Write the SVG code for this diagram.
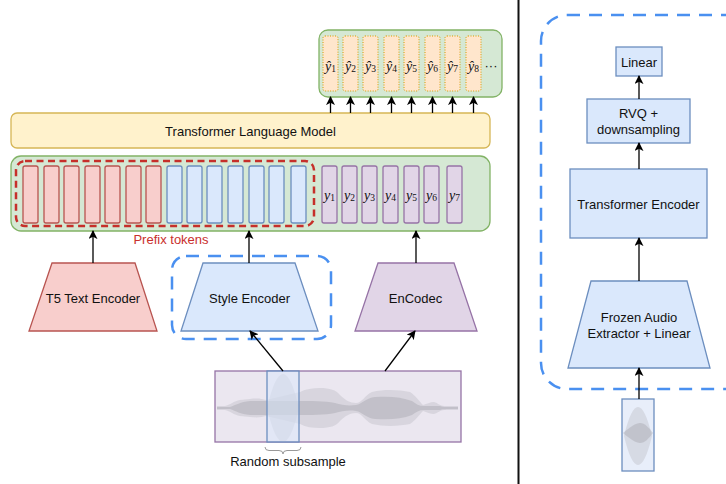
<svg xmlns="http://www.w3.org/2000/svg" width="726" height="484" viewBox="0 0 726 484">
  <defs>
    <marker id="arrow" viewBox="0 0 10 10" markerUnits="userSpaceOnUse" markerWidth="9" markerHeight="9" refX="9" refY="5" orient="auto">
      <path d="M0,0 L10,5 L0,10 L2.5,5 z" fill="#000"/>
    </marker>
    <style>
      text { font-family: "Liberation Sans", Arial, sans-serif; font-size: 13px; fill: #111; }
      .lbl { text-anchor: middle; dominant-baseline: central; }
      .math { font-family: "Liberation Serif", "DejaVu Serif", serif; font-style: italic; font-size: 14px; text-anchor: middle; dominant-baseline: central; }
      .sub { font-style: normal; font-size: 9.5px; }
      .green { fill: #d5e8d4; stroke: #82b366; stroke-width: 1.3; }
      .yellow { fill: #fff2cc; stroke: #d6b656; stroke-width: 1.3; }
      .red { fill: #f8cecc; stroke: #b85450; stroke-width: 1.3; }
      .blue { fill: #dae8fc; stroke: #6c8ebf; stroke-width: 1.3; }
      .purple { fill: #e1d5e7; stroke: #9673a6; stroke-width: 1.3; }
      .out { fill: #ffe6cc; stroke: #d79b00; stroke-width: 1; stroke-dasharray: 1 1.5; }
      .reddash { fill: none; stroke: #c62f2a; stroke-width: 2.5; stroke-dasharray: 7 4.5; }
      .bluedash { fill: none; stroke: #4a90f0; stroke-width: 2.5; stroke-dasharray: 13 9; }
      .conn { stroke: #000; stroke-width: 1.3; fill: none; marker-end: url(#arrow); }
      .wl { fill: #bcbcc4; opacity: 0.4; }
      .wd { fill: #a4a4ac; opacity: 0.42; }
    </style>
  </defs>

  <!-- divider between the two panels -->
  <line x1="518.5" y1="0" x2="518.5" y2="484" stroke="#111" stroke-width="2"/>

  <!-- output token strip -->
  <g id="output-tokens">
    <rect class="green" x="319" y="30" width="183" height="67" rx="9"/>
    <rect class="out" x="323" y="36" width="15" height="55" rx="2"/>
    <rect class="out" x="343" y="36" width="15" height="55" rx="2"/>
    <rect class="out" x="363" y="36" width="15" height="55" rx="2"/>
    <rect class="out" x="384" y="36" width="15" height="55" rx="2"/>
    <rect class="out" x="404" y="36" width="15" height="55" rx="2"/>
    <rect class="out" x="425" y="36" width="15" height="55" rx="2"/>
    <rect class="out" x="445" y="36" width="15" height="55" rx="2"/>
    <rect class="out" x="466" y="36" width="15" height="55" rx="2"/>
    <text class="math" x="330.5" y="66">ŷ<tspan class="sub" dy="3">1</tspan></text>
    <text class="math" x="350.5" y="66">ŷ<tspan class="sub" dy="3">2</tspan></text>
    <text class="math" x="370.5" y="66">ŷ<tspan class="sub" dy="3">3</tspan></text>
    <text class="math" x="391.5" y="66">ŷ<tspan class="sub" dy="3">4</tspan></text>
    <text class="math" x="411.5" y="66">ŷ<tspan class="sub" dy="3">5</tspan></text>
    <text class="math" x="432.5" y="66">ŷ<tspan class="sub" dy="3">6</tspan></text>
    <text class="math" x="452.5" y="66">ŷ<tspan class="sub" dy="3">7</tspan></text>
    <text class="math" x="473.5" y="66">ŷ<tspan class="sub" dy="3">8</tspan></text>
    <text class="lbl" x="491" y="65">···</text>
  </g>

  <!-- language model -->
  <g id="transformer-lm">
    <rect class="yellow" x="11" y="113" width="479" height="35" rx="6"/>
    <text class="lbl" x="250.5" y="131">Transformer Language Model</text>
  </g>

  <!-- input token strip -->
  <g id="input-tokens">
    <rect class="green" x="11" y="156" width="479" height="75" rx="10"/>
    <rect class="red" x="23" y="166" width="15" height="57" rx="2"/>
    <rect class="red" x="44" y="166" width="15" height="57" rx="2"/>
    <rect class="red" x="64" y="166" width="15" height="57" rx="2"/>
    <rect class="red" x="85" y="166" width="15" height="57" rx="2"/>
    <rect class="red" x="105" y="166" width="15" height="57" rx="2"/>
    <rect class="red" x="126" y="166" width="15" height="57" rx="2"/>
    <rect class="red" x="146" y="166" width="15" height="57" rx="2"/>
    <rect class="blue" x="167" y="166" width="15" height="57" rx="2"/>
    <rect class="blue" x="187" y="166" width="15" height="57" rx="2"/>
    <rect class="blue" x="207" y="166" width="15" height="57" rx="2"/>
    <rect class="blue" x="228" y="166" width="15" height="57" rx="2"/>
    <rect class="blue" x="249" y="166" width="15" height="57" rx="2"/>
    <rect class="blue" x="269" y="166" width="15" height="57" rx="2"/>
    <rect class="blue" x="291" y="166" width="15" height="57" rx="2"/>
    <rect class="purple" x="322" y="166" width="15" height="57" rx="2"/>
    <rect class="purple" x="342" y="166" width="15" height="57" rx="2"/>
    <rect class="purple" x="362" y="166" width="15" height="57" rx="2"/>
    <rect class="purple" x="383" y="166" width="15" height="57" rx="2"/>
    <rect class="purple" x="404" y="166" width="15" height="57" rx="2"/>
    <rect class="purple" x="424" y="166" width="15" height="57" rx="2"/>
    <rect class="purple" x="447" y="166" width="15" height="57" rx="2"/>
    <text class="math" x="329.5" y="195">y<tspan class="sub" dy="3">1</tspan></text>
    <text class="math" x="349.5" y="195">y<tspan class="sub" dy="3">2</tspan></text>
    <text class="math" x="369.5" y="195">y<tspan class="sub" dy="3">3</tspan></text>
    <text class="math" x="390.5" y="195">y<tspan class="sub" dy="3">4</tspan></text>
    <text class="math" x="411.5" y="195">y<tspan class="sub" dy="3">5</tspan></text>
    <text class="math" x="431.5" y="195">y<tspan class="sub" dy="3">6</tspan></text>
    <text class="math" x="454.5" y="195">y<tspan class="sub" dy="3">7</tspan></text>
  </g>

  <!-- prefix token group -->
  <g id="prefix-tokens">
    <rect class="reddash" x="16" y="161" width="298" height="65" rx="9"/>
    <text x="171" y="244" text-anchor="middle" style="fill:#c9302c">Prefix tokens</text>
  </g>

  <!-- encoders -->
  <g id="t5-encoder">
    <polygon class="red" points="52,263 135,263 157,331 29,331"/>
    <text class="lbl" x="93" y="298">T5 Text Encoder</text>
  </g>

  <g id="style-encoder">
    <rect class="bluedash" x="172" y="256" width="159" height="83" rx="14"/>
    <polygon class="blue" points="203,263 295,263 318,331 181,331"/>
    <text class="lbl" x="249.5" y="298">Style Encoder</text>
  </g>

  <g id="encodec">
    <polygon class="purple" points="378,263 454,263 477,331 355,331"/>
    <text class="lbl" x="415.5" y="298">EnCodec</text>
  </g>

  <!-- audio waveform with the sampled window -->
  <g id="waveform">
    <rect x="215" y="371" width="246" height="71" fill="#ebe7f0" stroke="#9673a6" stroke-width="1.3"/>
    <path class="wl" d="M217,406 L225,406 C230,405 234,401 240,400 L250,399 C258,398 262,399 266,400 L300,392 C306,389 312,388 320,388 C330,388 336,390 340,395 C345,400 350,403 356,403 C362,403 365,395 372,392 C385,389 400,390 410,392 C416,396 419,401 423,405 C427,404 430,402 434,402 C438,403 440,406 444,406 L458,406 L458,410 L444,410 C440,410 438,413 434,414 C430,414 427,412 423,411 C419,415 416,420 410,424 C400,426 385,427 372,424 C365,421 362,413 356,413 C350,413 345,416 340,421 C336,426 330,428 320,428 C312,428 306,427 300,424 L266,416 C262,417 258,418 250,417 L240,416 C234,415 230,411 225,410 L217,410 Z"/>
    <path class="wl" d="M267,408 Q283,340 299,408 Q283,476 267,408 Z"/>
    <path class="wd" d="M217,407 L230,407 C236,405 240,402 250,401 L300,401 C310,401 325,401 335,403 C342,405 348,406 356,405 C362,404 366,398 375,397 C390,396 402,397 412,401 C416,404 419,406 424,406 L440,406 C442,407 444,407 458,407 L458,409 C444,409 442,409 440,410 L424,410 C419,410 416,412 412,415 C402,419 390,420 375,419 C366,418 362,412 356,411 C348,410 342,411 335,413 C325,415 310,415 300,415 L250,415 C240,414 236,411 230,409 L217,409 Z"/>
    <rect x="267" y="371" width="32" height="71" fill="#dae8fc" fill-opacity="0.55" stroke="#6c8ebf" stroke-width="1.3"/>
    <path d="M265,447 q0,3.5 4,3.5 h10 q4,0 4,3.5 q0,-3.5 4,-3.5 h10 q4,0 4,-3.5" fill="none" stroke="#999" stroke-width="1"/>
    <text x="288" y="466" text-anchor="middle">Random subsample</text>
  </g>

  <!-- right panel: style encoder internals -->
  <g id="style-encoder-detail">
    <rect class="bluedash" x="541" y="15" width="210" height="374" rx="26"/>
  </g>

  <g id="linear">
    <rect class="blue" x="616" y="47" width="46" height="29"/>
    <text class="lbl" x="639" y="62">Linear</text>
  </g>

  <g id="rvq">
    <rect class="blue" x="587" y="99" width="103" height="44"/>
    <text class="lbl" x="638.5" y="113">RVQ +</text>
    <text class="lbl" x="638.5" y="129">downsampling</text>
  </g>

  <g id="transformer-encoder">
    <rect class="blue" x="570" y="169" width="137" height="69"/>
    <text class="lbl" x="638.5" y="204">Transformer Encoder</text>
  </g>

  <g id="frozen-extractor">
    <polygon class="blue" points="591,281 687,281 710,368 568,368"/>
    <text class="lbl" x="639" y="317">Frozen Audio</text>
    <text class="lbl" x="639" y="333">Extractor + Linear</text>
  </g>

  <g id="audio-clip">
    <rect x="622" y="399" width="32" height="72" fill="#e8eefa" stroke="#6c8ebf" stroke-width="1.3"/>
    <path class="wl" d="M624,436 Q638,378 652,436 Q638,494 624,436 Z"/>
    <path class="wd" d="M623,433 C630,427 636,423 640,423 C645,423 649,428 653,433 C649,438 645,443 640,443 C636,443 630,439 623,433 Z"/>
  </g>

  <!-- connectors -->
  <g id="connectors">
    <line class="conn" x1="330.5" y1="113" x2="330.5" y2="97"/>
    <line class="conn" x1="350.5" y1="113" x2="350.5" y2="97"/>
    <line class="conn" x1="370.5" y1="113" x2="370.5" y2="97"/>
    <line class="conn" x1="391.5" y1="113" x2="391.5" y2="97"/>
    <line class="conn" x1="411.5" y1="113" x2="411.5" y2="97"/>
    <line class="conn" x1="432.5" y1="113" x2="432.5" y2="97"/>
    <line class="conn" x1="452.5" y1="113" x2="452.5" y2="97"/>
    <line class="conn" x1="473.5" y1="113" x2="473.5" y2="97"/>
    <line class="conn" x1="93" y1="263" x2="93" y2="231"/>
    <line class="conn" x1="249" y1="263" x2="249" y2="231"/>
    <line class="conn" x1="416" y1="263" x2="416" y2="231"/>
    <line class="conn" x1="283" y1="371" x2="250" y2="331"/>
    <line class="conn" x1="385" y1="371" x2="415" y2="331"/>
    <line class="conn" x1="639" y1="99" x2="639" y2="76"/>
    <line class="conn" x1="639" y1="169" x2="639" y2="143"/>
    <line class="conn" x1="639" y1="281" x2="639" y2="238"/>
    <line class="conn" x1="639" y1="399" x2="639" y2="368"/>
  </g>
</svg>
